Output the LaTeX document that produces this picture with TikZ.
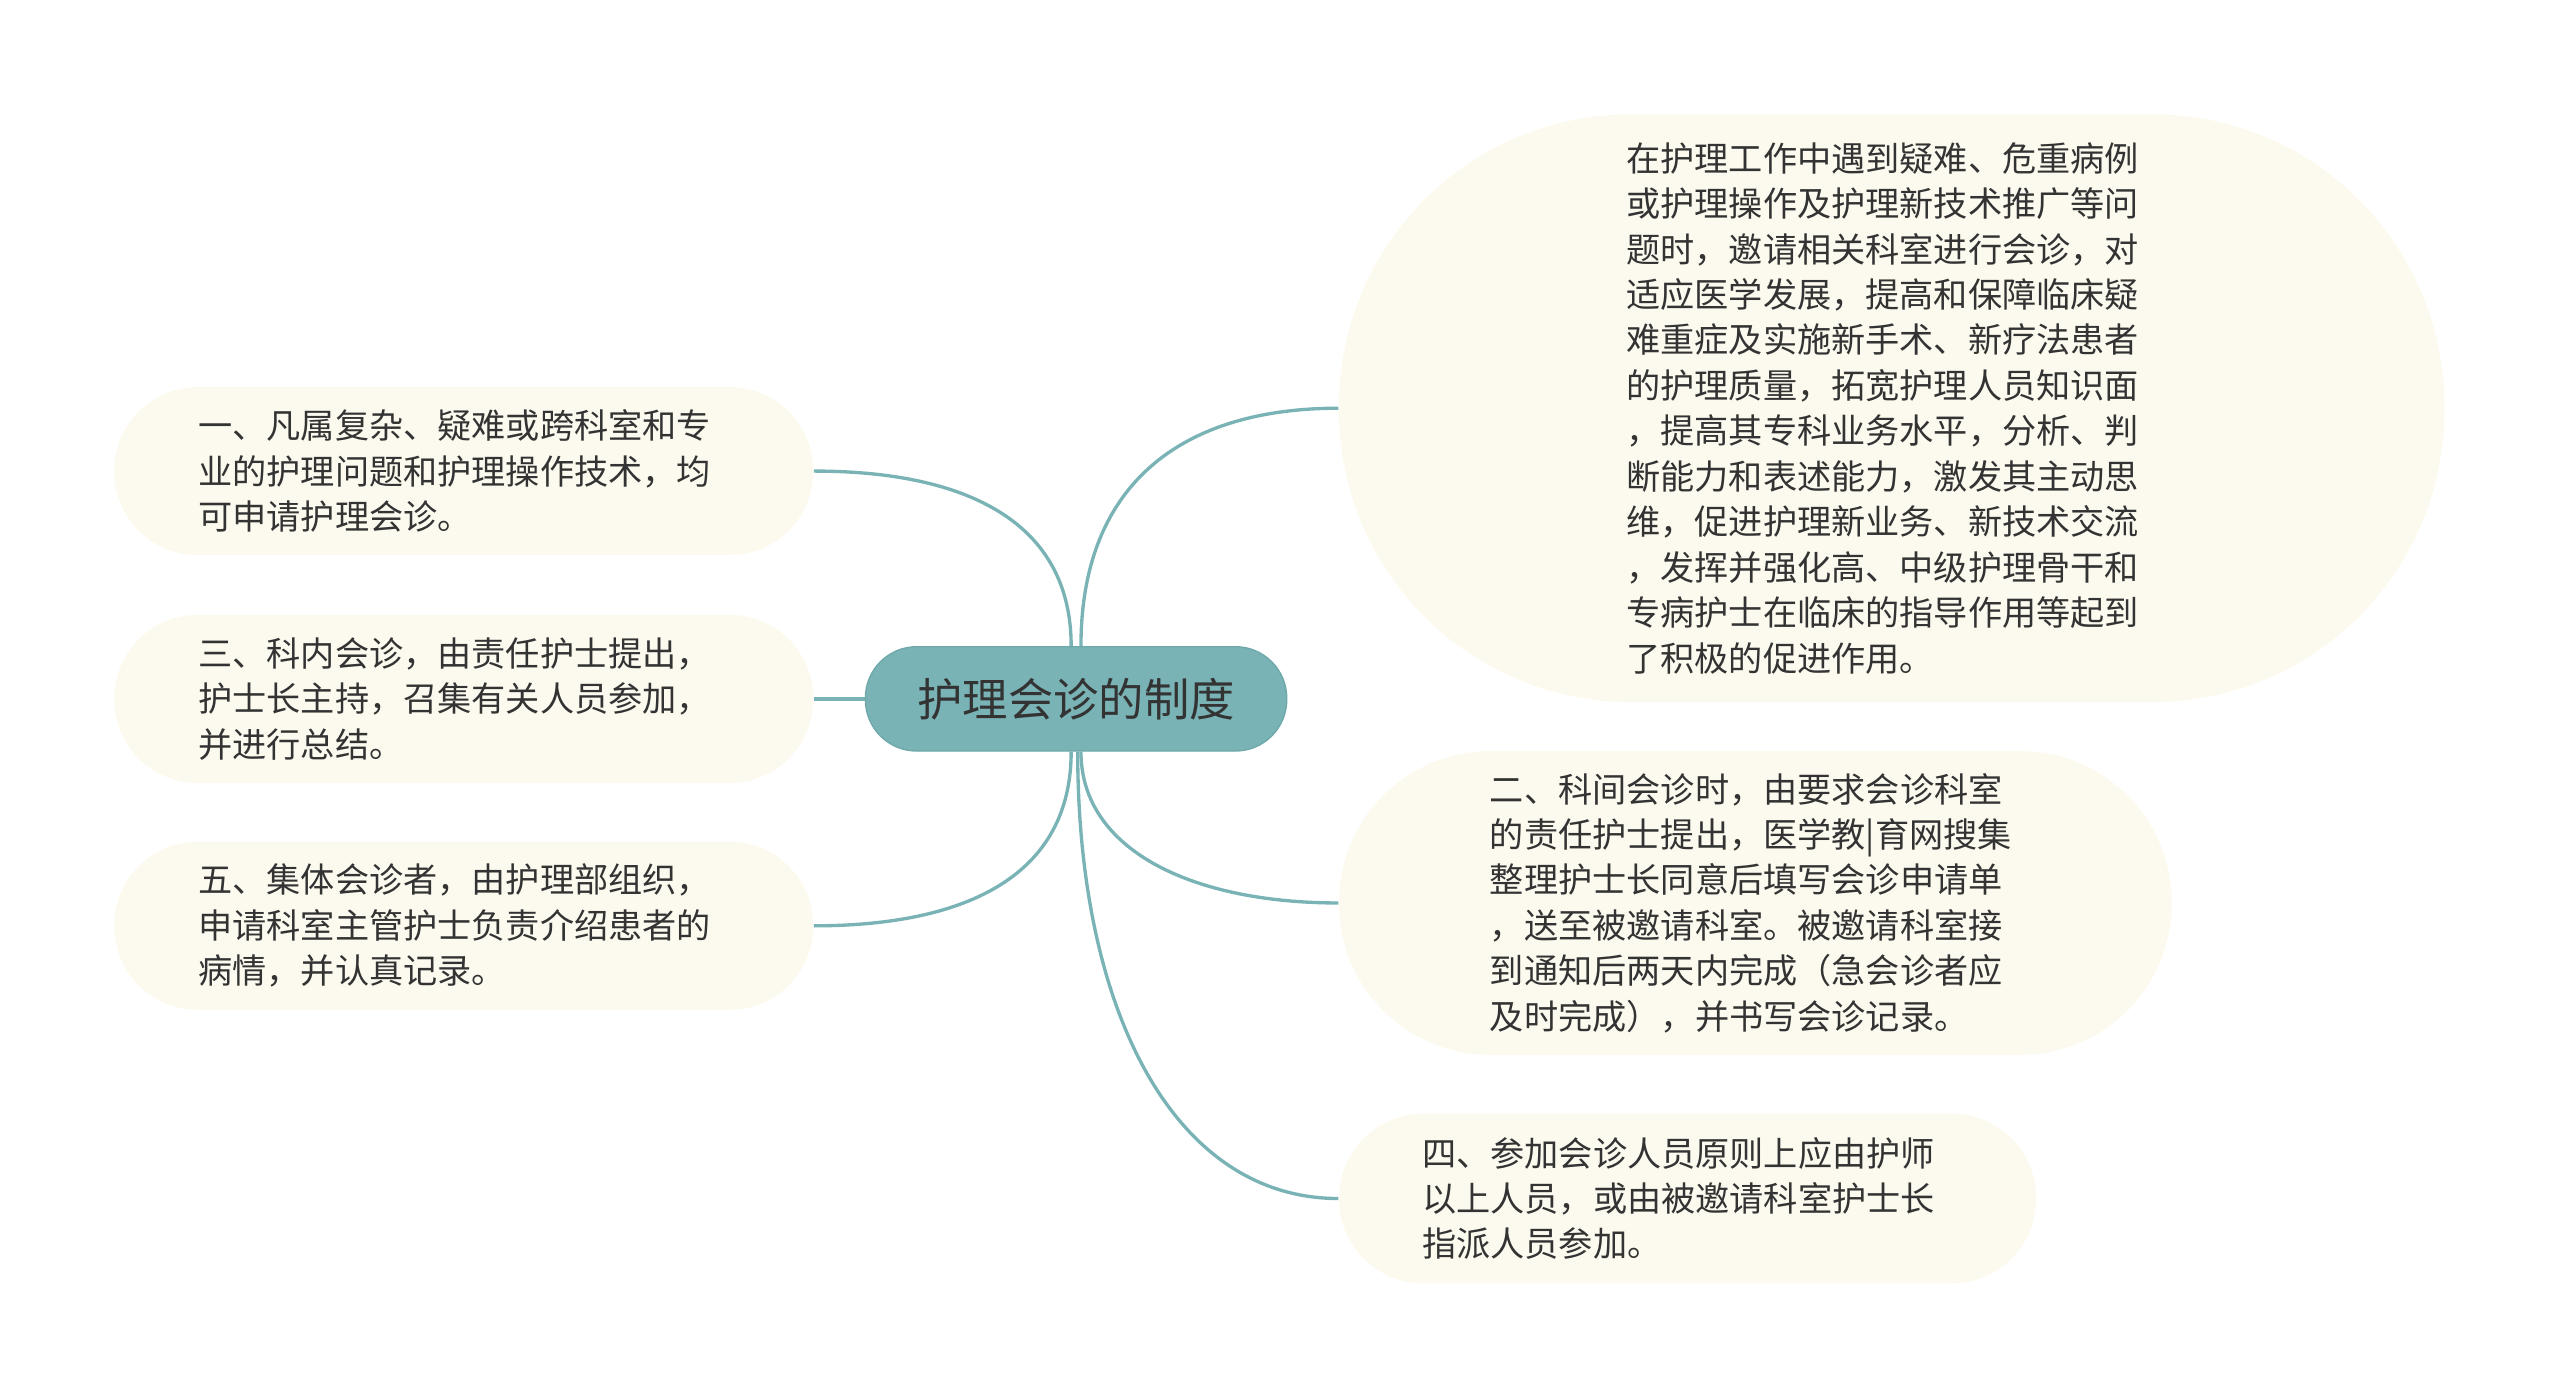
\documentclass[tikz,border=0pt]{standalone}
\usepackage{fontspec}
\setmainfont{Noto Sans CJK SC}
\usetikzlibrary{calc}
\definecolor{mapteal}{HTML}{7AB3B5}
\definecolor{mapedge}{HTML}{6FA8AA}
\definecolor{mapcream}{HTML}{FCFAEF}
\definecolor{maptext}{HTML}{333333}

\begin{document}
\begin{tikzpicture}[x=0.4898pt,y=-0.4898pt,
    topic/.style={draw=mapedge,fill=mapteal,text=maptext,rounded corners=15.4pt,
        minimum width=126.4pt,minimum height=31.3pt,font=\fontsize{13.6pt}{16pt}\selectfont},
    leaf/.style={fill=mapcream,text=maptext,align=left,inner sep=0pt,text width=159.2pt,
        font=\fontsize{10.25pt}{13.63pt}\selectfont},
    branch/.style={draw=mapteal,line width=1pt}]
    \useasboundingbox (0,0) rectangle (1567.8,855.6);

    % Central topic
    \node[topic] (topic) at (659,428) {护理会诊的制度};

    % Left branches
    \node[leaf,minimum width=209.6pt,minimum height=50.4pt,rounded corners=24.9pt] (n1) at (284,288.5)
        {一、凡属复杂、疑难或跨科室和专\\业的护理问题和护理操作技术，均\\可申请护理会诊。};
    \node[leaf,minimum width=209.6pt,minimum height=50.4pt,rounded corners=24.9pt] (n3) at (284,428)
        {三、科内会诊，由责任护士提出，\\护士长主持，召集有关人员参加，\\并进行总结。};
    \node[leaf,minimum width=209.6pt,minimum height=50.4pt,rounded corners=24.9pt] (n5) at (284,567)
        {五、集体会诊者，由护理部组织，\\申请科室主管护士负责介绍患者的\\病情，并认真记录。};

    % Right branches
    \node[leaf,minimum width=331.6pt,minimum height=176.3pt,rounded corners=87.5pt] (goal) at (1158.5,250)
        {在护理工作中遇到疑难、危重病例\\或护理操作及护理新技术推广等问\\题时，邀请相关科室进行会诊，对\\适应医学发展，提高和保障临床疑\\难重症及实施新手术、新疗法患者\\的护理质量，拓宽护理人员知识面\\，提高其专科业务水平，分析、判\\断能力和表述能力，激发其主动思\\维，促进护理新业务、新技术交流\\，发挥并强化高、中级护理骨干和\\专病护士在临床的指导作用等起到\\了积极的促进作用。};
    \node[leaf,minimum width=249.8pt,minimum height=91.1pt,rounded corners=45.3pt] (n2) at (1075,553)
        {二、科间会诊时，由要求会诊科室\\的责任护士提出，医学教|育网搜集\\整理护士长同意后填写会诊申请单\\，送至被邀请科室。被邀请科室接\\到通知后两天内完成（急会诊者应\\及时完成），并书写会诊记录。};
    \node[leaf,minimum width=209.1pt,minimum height=50.9pt,rounded corners=25.2pt] (n4) at (1033.5,734)
        {四、参加会诊人员原则上应由护师\\以上人员，或由被邀请科室护士长\\指派人员参加。};

    % Connectors
    \draw[branch] ($(topic.north)+(-3,0)$) .. controls +(0,-75) and +(95,0) .. (n1.east);
    \draw[branch] (topic.west) -- (n3.east);
    \draw[branch] ($(topic.south)+(-3,0)$) .. controls +(0,75) and +(95,0) .. (n5.east);
    \draw[branch] ($(topic.north)+(3,0)$) .. controls +(0,-100) and +(-95,0) .. (goal.west);
    \draw[branch] ($(topic.south)+(3,0)$) .. controls +(0,60) and +(-90,0) .. (n2.west);
    \draw[branch] ($(topic.south)+(1,0)$) .. controls +(0,160) and +(-100,0) .. (n4.west);
\end{tikzpicture}
\end{document}
